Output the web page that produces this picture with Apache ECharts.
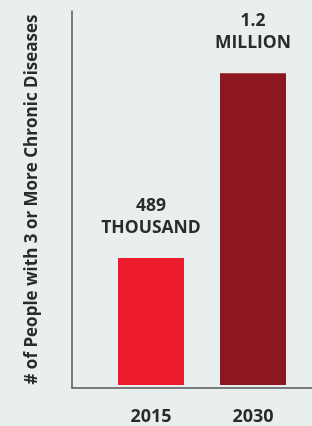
<!DOCTYPE html>
<html>
<head>
<meta charset="utf-8">
<script src="https://cdn.jsdelivr.net/npm/echarts@6/dist/echarts.min.js"></script>
<style>
  html, body { margin: 0; padding: 0; background: #e9efef; }
  #chart { width: 312px; height: 426px; }
</style>
</head>
<body>
<div id="chart"></div>
<script>
// values in thousands of people
const years = ['2015', '2030'];
const people = [489, 1200];
const valueLabels = ['489\nTHOUSAND', '1.2\nMILLION'];
const barColors = ['#ed1c2c', '#8c171e'];

const chart = echarts.init(document.getElementById('chart'));

const font = '"Open Sans", sans-serif';

const option = {
  backgroundColor: '#e9efef',
  animation: false,
  grid: [
    { left: 100, right: 8, top: 11, bottom: 38 },
    { left: 72, right: 0, top: 11, bottom: 38 },
  ],
  xAxis: [
    {
      type: 'category',
      gridIndex: 0,
      data: years,
      axisLine: { show: false },
      axisTick: { show: false },
      axisLabel: {
        margin: 23,
        color: '#2b2b2b',
        fontFamily: font,
        fontWeight: 'bold',
        fontSize: 18,
      },
    },
    {
      type: 'value',
      gridIndex: 1,
      min: 0,
      max: 1,
      axisLine: { show: true, lineStyle: { color: '#555', width: 1.5 } },
      axisTick: { show: false },
      axisLabel: { show: false },
      splitLine: { show: false },
    },
  ],
  yAxis: [
    {
      type: 'value',
      gridIndex: 0,
      min: 0,
      max: 1440,
      show: false,
    },
    {
      type: 'value',
      gridIndex: 1,
      min: 0,
      max: 1,
      name: '# of People with 3 or More Chronic Diseases',
      nameLocation: 'middle',
      nameRotate: 90,
      nameGap: 31,
      nameTextStyle: {
        color: '#2b2b2b',
        fontFamily: font,
        fontWeight: 'bold',
        fontSize: 17,
      },
      axisLine: { show: true, lineStyle: { color: '#555', width: 1.5 } },
      axisTick: { show: false },
      axisLabel: { show: false },
      splitLine: { show: false },
    },
  ],
  series: [
    {
      type: 'bar',
      xAxisIndex: 0,
      yAxisIndex: 0,
      barWidth: 66,
      data: people.map((v, i) => ({
        value: v,
        itemStyle: { color: barColors[i] },
        label: { formatter: valueLabels[i] },
      })),
      label: {
        show: true,
        position: 'top',
        distance: 19,
        color: '#2b2b2b',
        fontFamily: font,
        fontWeight: 'bold',
        fontSize: 17.5,
        lineHeight: 22,
      },
    },
  ],
};

chart.setOption(option);
</script>
</body>
</html>
